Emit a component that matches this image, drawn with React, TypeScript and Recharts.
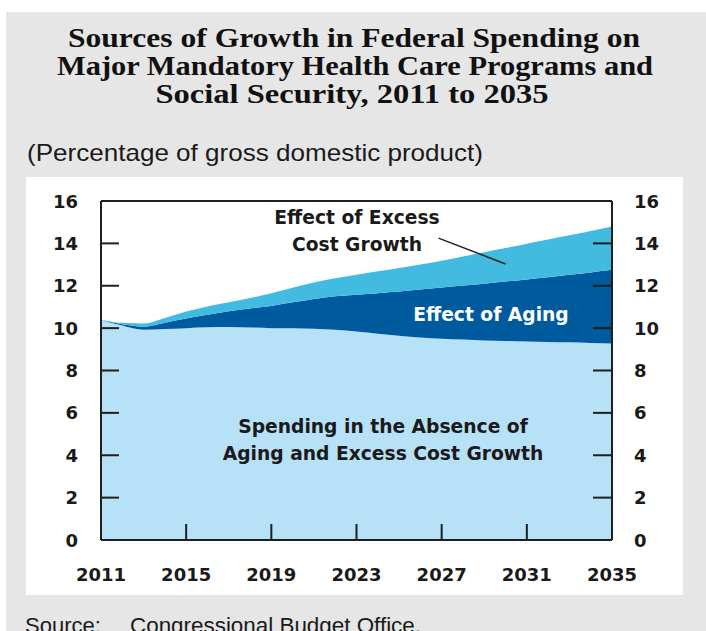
import React from "react";
import { AreaChart, Area, XAxis, YAxis, ReferenceLine } from "recharts";

const years = [2011, 2012, 2013, 2014, 2015, 2016, 2017, 2018, 2019, 2020, 2021, 2022, 2023, 2024, 2025, 2026, 2027, 2028, 2029, 2030, 2031, 2032, 2033, 2034, 2035];
const baseSpending = [10.4, 10.12, 9.92, 9.96, 10.0, 10.04, 10.05, 10.03, 10.0, 9.99, 9.97, 9.92, 9.84, 9.74, 9.64, 9.56, 9.5, 9.46, 9.42, 9.39, 9.37, 9.35, 9.33, 9.3, 9.28];
const agingEffect = [0, 0.06, 0.15, 0.29, 0.45, 0.59, 0.75, 0.9, 1.05, 1.23, 1.41, 1.58, 1.74, 1.91, 2.09, 2.26, 2.42, 2.55, 2.68, 2.81, 2.93, 3.05, 3.19, 3.33, 3.47];
const excessCostEffect = [0, 0.07, 0.15, 0.23, 0.33, 0.39, 0.42, 0.49, 0.6, 0.68, 0.77, 0.85, 0.94, 1.03, 1.11, 1.18, 1.26, 1.37, 1.48, 1.58, 1.68, 1.78, 1.86, 1.95, 2.05];

const xTicks = [2011, 2015, 2019, 2023, 2027, 2031, 2035];
const yTicks = [0, 2, 4, 6, 8, 10, 12, 14, 16];

const titleLines = [
  "Sources of Growth in Federal Spending on",
  "Major Mandatory Health Care Programs and",
  "Social Security, 2011 to 2035",
];
const subtitle = "(Percentage of gross domestic product)";
const excessLabel = ["Effect of Excess", "Cost Growth"];
const agingLabel = "Effect of Aging";
const baseLabel = ["Spending in the Absence of", "Aging and Excess Cost Growth"];
const leaderLine = [
  { x: 2026.85, y: 14.25 },
  { x: 2030.0, y: 13.03 },
];

const data = years.map((year, i) => ({
  year,
  base: baseSpending[i],
  aging: agingEffect[i],
  excess: excessCostEffect[i],
}));

const AXIS_COLOR = "#1f1f1f";
const TICK_FONT = "'DejaVu Sans', Verdana, sans-serif";

const LeftTick = (props: any) => {
  const { x, y, payload } = props;
  const v = payload.value;
  const showLine = v !== 0 && v !== 16;
  return (
    <g>
      {showLine && <line x1={x} y1={y} x2={x + 18} y2={y} stroke={AXIS_COLOR} strokeWidth={2} />}
      <text x={x - 23} y={y} textAnchor="end" dominantBaseline="central" fontFamily={TICK_FONT} fontWeight="bold" fontSize={18} fill="#1a1a1a">
        {v}
      </text>
    </g>
  );
};

const RightTick = (props: any) => {
  const { x, y, payload } = props;
  const v = payload.value;
  const showLine = v !== 0 && v !== 16;
  return (
    <g>
      {showLine && <line x1={x - 19} y1={y} x2={x} y2={y} stroke={AXIS_COLOR} strokeWidth={2} />}
      <text x={x + 22} y={y} textAnchor="start" dominantBaseline="central" fontFamily={TICK_FONT} fontWeight="bold" fontSize={18} fill="#1a1a1a">
        {v}
      </text>
    </g>
  );
};

const BottomTick = (props: any) => {
  const { x, y, payload } = props;
  const v = payload.value;
  const showLine = v !== 2011 && v !== 2035;
  return (
    <g>
      {showLine && <line x1={x} y1={y} x2={x} y2={y - 16} stroke={AXIS_COLOR} strokeWidth={2} />}
      <text x={x} y={y + 34} textAnchor="middle" dominantBaseline="central" fontFamily={TICK_FONT} fontWeight="bold" fontSize={18} fill="#1a1a1a">
        {v}
      </text>
    </g>
  );
};

const annoStyle: React.CSSProperties = {
  position: "absolute",
  transform: "translateX(-50%)",
  textAlign: "center",
  whiteSpace: "nowrap",
  fontFamily: TICK_FONT,
  fontWeight: "bold",
  fontSize: 18.7,
  lineHeight: "27px",
  color: "#1a1a1a",
};

export default function App() {
  return (
    <div style={{ position: "absolute", left: 0, top: 0, width: 706, height: 631, overflow: "hidden", background: "#ffffff" }}>
      <div style={{ position: "absolute", left: 6, top: 12, width: 700, height: 619, background: "#e6e6e6" }} />
      <div style={{ position: "absolute", left: 26, top: 177, width: 657, height: 418, background: "#ffffff" }} />
      <svg style={{ position: "absolute", left: 0, top: 0 }} width={706} height={631}>
        <g fontFamily="'Liberation Serif', 'Times New Roman', serif" fontWeight="bold" fontSize={27} fill="#111">
          <text x={354} y={47} textAnchor="middle" textLength={572} lengthAdjust="spacingAndGlyphs">{titleLines[0]}</text>
          <text x={355} y={75} textAnchor="middle" textLength={596} lengthAdjust="spacingAndGlyphs">{titleLines[1]}</text>
          <text x={352} y={103} textAnchor="middle" textLength={393} lengthAdjust="spacingAndGlyphs">{titleLines[2]}</text>
        </g>
        <text x={27} y={161} fontFamily="'Liberation Sans', Arial, sans-serif" fontSize={24} fill="#1a1a1a" textLength={456} lengthAdjust="spacingAndGlyphs">
          {subtitle}
        </text>
        <text x={25} y={633} fontFamily="'Liberation Sans', Arial, sans-serif" fontSize={22} fill="#1a1a1a">Source:</text>
        <text x={130} y={633} fontFamily="'Liberation Sans', Arial, sans-serif" fontSize={22} fill="#1a1a1a" textLength={291} lengthAdjust="spacingAndGlyphs">
          Congressional Budget Office.
        </text>
      </svg>
      <div style={{ position: "absolute", left: 0, top: 0 }}>
        <AreaChart width={706} height={631} data={data} margin={{ top: 201, right: 34, bottom: 51, left: 41 }}>
          <XAxis
            dataKey="year"
            type="number"
            domain={[2011, 2035]}
            ticks={xTicks}
            interval={0}
            height={40}
            tickSize={0}
            tickMargin={0}
            tickLine={false}
            axisLine={{ stroke: AXIS_COLOR, strokeWidth: 2 }}
            tick={<BottomTick />}
            allowDataOverflow
          />
          <YAxis
            yAxisId="left"
            orientation="left"
            domain={[0, 16]}
            ticks={yTicks}
            interval={0}
            width={60}
            tickSize={0}
            tickMargin={0}
            tickLine={false}
            axisLine={{ stroke: AXIS_COLOR, strokeWidth: 2 }}
            tick={<LeftTick />}
            allowDataOverflow
          />
          <YAxis
            yAxisId="right"
            orientation="right"
            domain={[0, 16]}
            ticks={yTicks}
            interval={0}
            width={60}
            tickSize={0}
            tickMargin={0}
            tickLine={false}
            axisLine={{ stroke: AXIS_COLOR, strokeWidth: 2 }}
            tick={<RightTick />}
            allowDataOverflow
          />
          <Area yAxisId="left" type="monotone" dataKey="base" stackId="1" stroke="none" fill="#b7e1f6" fillOpacity={1} isAnimationActive={false} />
          <Area yAxisId="left" type="monotone" dataKey="aging" stackId="1" stroke="none" fill="#005a9e" fillOpacity={1} isAnimationActive={false} />
          <Area yAxisId="left" type="monotone" dataKey="excess" stackId="1" stroke="none" fill="#43bbe1" fillOpacity={1} isAnimationActive={false} />
          <ReferenceLine yAxisId="left" y={16} stroke={AXIS_COLOR} strokeWidth={2} />
          <ReferenceLine yAxisId="left" segment={leaderLine} stroke="#222" strokeWidth={1.5} />
        </AreaChart>
      </div>
      <div style={{ ...annoStyle, left: 357, top: 204 }}>
        {excessLabel[0]}
        <br />
        {excessLabel[1]}
      </div>
      <div style={{ ...annoStyle, left: 491, top: 301, color: "#ffffff" }}>{agingLabel}</div>
      <div style={{ ...annoStyle, left: 383, top: 413 }}>
        {baseLabel[0]}
        <br />
        {baseLabel[1]}
      </div>
    </div>
  );
}
